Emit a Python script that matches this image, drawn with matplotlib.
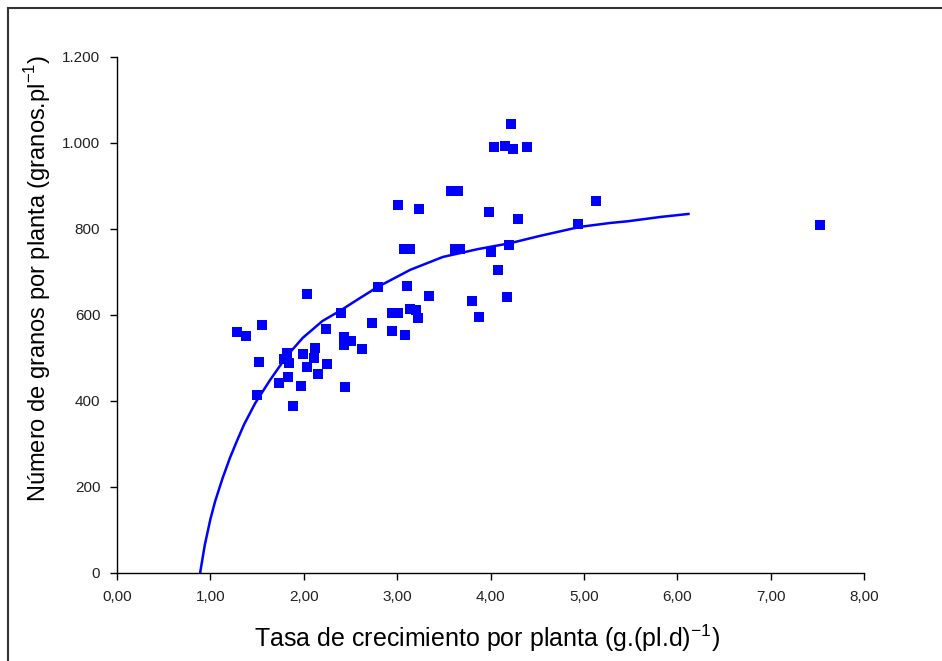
import matplotlib
matplotlib.use("Agg")
import matplotlib.pyplot as plt
from matplotlib.lines import Line2D
from matplotlib.ticker import FuncFormatter

plt.rcParams['font.family'] = ['Liberation Sans', 'DejaVu Sans']
plt.rcParams['mathtext.fontset'] = 'custom'
plt.rcParams['mathtext.rm'] = 'Liberation Sans'

# observed points: growth rate per plant vs grain number per plant
tasa = [1.29, 1.38, 1.55, 1.52, 1.50, 2.04, 1.82, 1.79, 1.84, 1.83,
        1.73, 1.89, 1.97, 1.99, 2.04, 2.12, 2.11, 2.15, 2.24, 2.25,
        2.40, 2.43, 2.51, 2.43, 2.44, 2.62, 2.73, 2.80, 2.94, 3.01,
        2.95, 3.01, 3.07, 3.14, 3.11, 3.08, 3.14, 3.20, 3.22, 3.23,
        3.34, 3.58, 3.65, 3.62, 3.67, 3.80, 3.88, 3.98, 4.01, 4.08,
        4.04, 4.15, 4.24, 4.22, 4.39, 4.18, 4.20, 4.29, 4.94, 5.13,
        7.53]
granos = [560, 551, 577, 491, 414, 649, 512, 498, 488, 456,
          442, 388, 435, 509, 479, 523, 500, 463, 567, 486,
          605, 549, 540, 530, 433, 521, 581, 665, 605, 605,
          563, 856, 753, 753, 667, 553, 614, 612, 593, 847,
          644, 888, 888, 753, 753, 633, 595, 840, 747, 705,
          991, 993, 986, 1044, 991, 642, 763, 823, 812, 865,
          809]

# fitted curve
curva_x = [0.89, 0.94, 1.00, 1.05, 1.13, 1.21, 1.29, 1.36, 1.48, 1.64,
           1.82, 1.99, 2.20, 2.39, 2.57, 2.79, 3.14, 3.49, 3.86, 4.21,
           4.53, 4.96, 5.28, 5.47, 5.82, 6.12]
curva_y = [0, 65, 125, 166, 220, 268, 310, 345, 395, 449,
           505, 547, 586, 610, 635, 665, 705, 735, 753, 767,
           784, 805, 814, 818, 828, 835]

fig = plt.figure(figsize=(9.42, 6.61), dpi=100)
ax = fig.add_axes([117/942, 1-573/661, (864-117)/942, (573-57)/661])

ax.plot(curva_x, curva_y, color='#0000ff', lw=1.8, zorder=2)
ax.scatter(tasa, granos, marker='s', s=46, color='#0000ff', lw=0, zorder=3)

ax.set_xlim(0, 8)
ax.set_ylim(0, 1200)
ax.set_xticks(range(0, 9))
ax.set_yticks(range(0, 1201, 200))
ax.xaxis.set_major_formatter(FuncFormatter(lambda v, p: f"{v:.2f}".replace('.', ',')))
ax.yaxis.set_major_formatter(FuncFormatter(lambda v, p: f"{int(v):,}".replace(',', '.')))

for s in ['top', 'right']:
    ax.spines[s].set_visible(False)
for s in ['left', 'bottom']:
    ax.spines[s].set_linewidth(1.0)
ax.tick_params(direction='out', length=5, width=1, labelsize=11, labelcolor='#222222', pad=7)

ax.set_xlabel('Tasa de crecimiento por planta (g.(pl.d)$^{-1}$)', fontsize=18)
ax.set_ylabel('Número de granos por planta (granos.pl$^{-1}$)', fontsize=17)
ax.xaxis.set_label_coords(0.495, -0.126)
ax.yaxis.set_label_coords(-0.106, 0.57)
ax.xaxis.label.set_va('center')
ax.yaxis.label.set_va('center')

# frame around the chart (left and top edges visible)
fig.add_artist(Line2D([8/942, 8/942], [0, 1-8/661], color='#333333', lw=1.5))
fig.add_artist(Line2D([8/942, 1], [1-8/661, 1-8/661], color='#333333', lw=1.5))

fig.savefig('out.png', dpi=100)
